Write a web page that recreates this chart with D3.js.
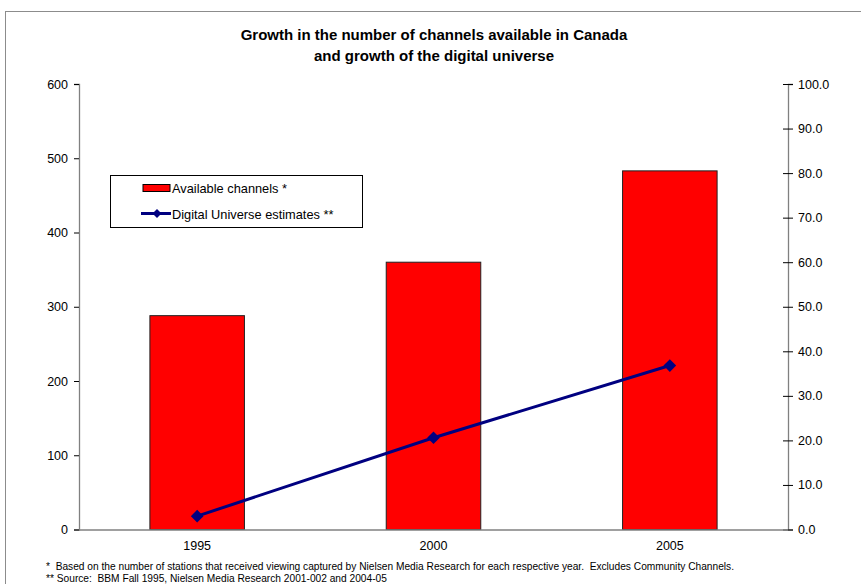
<!DOCTYPE html>
<html>
<head>
<meta charset="utf-8">
<script src="https://cdn.jsdelivr.net/npm/d3@7"></script>
<style>
  html, body { margin: 0; padding: 0; background: #fff; }
  svg { display: block; font-family: "Liberation Sans", Arial, sans-serif; }
  .note { white-space: pre; }
</style>
</head>
<body>
<svg id="chart" width="861" height="584"></svg>
<script>
// Years on the category axis
const years = ["1995", "2000", "2005"];
// Number of available channels (left axis)
const channels = [288, 360, 483];
// Digital universe estimates (right axis)
const digital = [3.0, 20.6, 36.8];
// Axis tick values
const leftTicks = [0, 100, 200, 300, 400, 500, 600];
const rightTicks = [0, 10, 20, 30, 40, 50, 60, 70, 80, 90, 100];

const titleLines = [
  "Growth in the number of channels available in Canada",
  "and growth of the digital universe"
];
const legendLabels = ["Available channels *", "Digital Universe estimates **"];
const footnotes = [
  "*  Based on the number of stations that received viewing captured by Nielsen Media Research for each respective year.  Excludes Community Channels.",
  "** Source:  BBM Fall 1995, Nielsen Media Research 2001-002 and 2004-05"
];

const svg = d3.select("#chart");
const plot = { left: 79, right: 788, top: 84, bottom: 529.5 };

// Outer frame
svg.append("rect")
  .attr("x", 5.5).attr("y", 11.5)
  .attr("width", 870).attr("height", 600)
  .attr("fill", "none").attr("stroke", "#8c8c8c").attr("stroke-width", 1);

const x = d3.scaleBand().domain(years)
  .range([plot.left, plot.right])
  .paddingInner(0.6).paddingOuter(0.3);
const yL = d3.scaleLinear().domain([0, 600]).range([plot.bottom, plot.top]);
const yR = d3.scaleLinear().domain([0, 100]).range([plot.bottom, plot.top]);

// Title
svg.append("g").selectAll("text").data(titleLines).join("text")
  .attr("x", 434).attr("y", (d, i) => 40 + i * 21)
  .attr("text-anchor", "middle")
  .attr("font-size", 15).attr("font-weight", "bold")
  .attr("fill", "#000")
  .text(d => d);

// Bars
svg.append("g").selectAll("rect").data(years).join("rect")
  .attr("x", d => x(d))
  .attr("width", x.bandwidth())
  .attr("y", (d, i) => yL(channels[i]))
  .attr("height", (d, i) => yL(0) - yL(channels[i]))
  .attr("fill", "#ff0000")
  .attr("stroke", "#222").attr("stroke-width", 1);

// Left axis
const axL = svg.append("g").attr("transform", `translate(${plot.left},0)`)
  .call(d3.axisLeft(yL).tickValues(leftTicks).tickSize(5).tickPadding(6).tickFormat(d3.format("d")));
// Right axis
const axR = svg.append("g").attr("transform", `translate(${plot.right},0)`)
  .call(d3.axisRight(yR).tickValues(rightTicks).tickSize(5).tickPadding(5).tickFormat(d3.format(".1f")));
axR.selectAll(".tick line").attr("x1", -5);
// Category axis
const axB = svg.append("g").attr("transform", `translate(0,${plot.bottom})`)
  .call(d3.axisBottom(x).tickSize(0).tickPadding(12));

[axL, axR, axB].forEach(ax => {
  ax.select(".domain").attr("stroke", "#808080").attr("stroke-width", 1.3);
  ax.selectAll(".tick line").attr("stroke", "#000");
  ax.selectAll(".tick text").attr("font-size", 12.5).attr("fill", "#000")
    .attr("font-family", "Liberation Sans, Arial, sans-serif");
});
axB.select(".domain").attr("d", `M${plot.left},0.5H${plot.right}`);

// Line series on right axis
const cx = d => x(d) + x.bandwidth() / 2;
const line = d3.line().x((d, i) => cx(years[i])).y(d => yR(d));
svg.append("path").datum(digital)
  .attr("d", line)
  .attr("fill", "none").attr("stroke", "#000080").attr("stroke-width", 3);
svg.append("g").selectAll("path").data(digital).join("path")
  .attr("d", d3.symbol().type(d3.symbolSquare).size(80))
  .attr("transform", (d, i) => `translate(${cx(years[i])},${yR(d)}) rotate(45)`)
  .attr("fill", "#000080");

// Legend
const lg = svg.append("g");
lg.append("rect").attr("x", 110.5).attr("y", 175.5).attr("width", 252).attr("height", 52)
  .attr("fill", "#fff").attr("stroke", "#000").attr("stroke-width", 1);
lg.append("rect").attr("x", 143).attr("y", 184.5).attr("width", 27).attr("height", 7)
  .attr("fill", "#ff0000").attr("stroke", "#000").attr("stroke-width", 1);
lg.append("line").attr("x1", 141).attr("x2", 171).attr("y1", 213.5).attr("y2", 213.5)
  .attr("stroke", "#000080").attr("stroke-width", 3);
lg.append("path")
  .attr("d", d3.symbol().type(d3.symbolSquare).size(40))
  .attr("transform", "translate(157,213.5) rotate(45)")
  .attr("fill", "#000080");
lg.selectAll("text.lbl").data(legendLabels).join("text")
  .attr("class", "lbl")
  .attr("x", 172).attr("y", (d, i) => 192.5 + i * 26)
  .attr("font-size", 12.8).attr("fill", "#000")
  .text(d => d);

// Footnotes
svg.append("g").selectAll("text").data(footnotes).join("text")
  .attr("class", "note")
  .attr("x", 46).attr("y", (d, i) => 569.5 + i * 12.5)
  .attr("font-size", 10.2).attr("fill", "#000")
  .text(d => d);
</script>
</body>
</html>
